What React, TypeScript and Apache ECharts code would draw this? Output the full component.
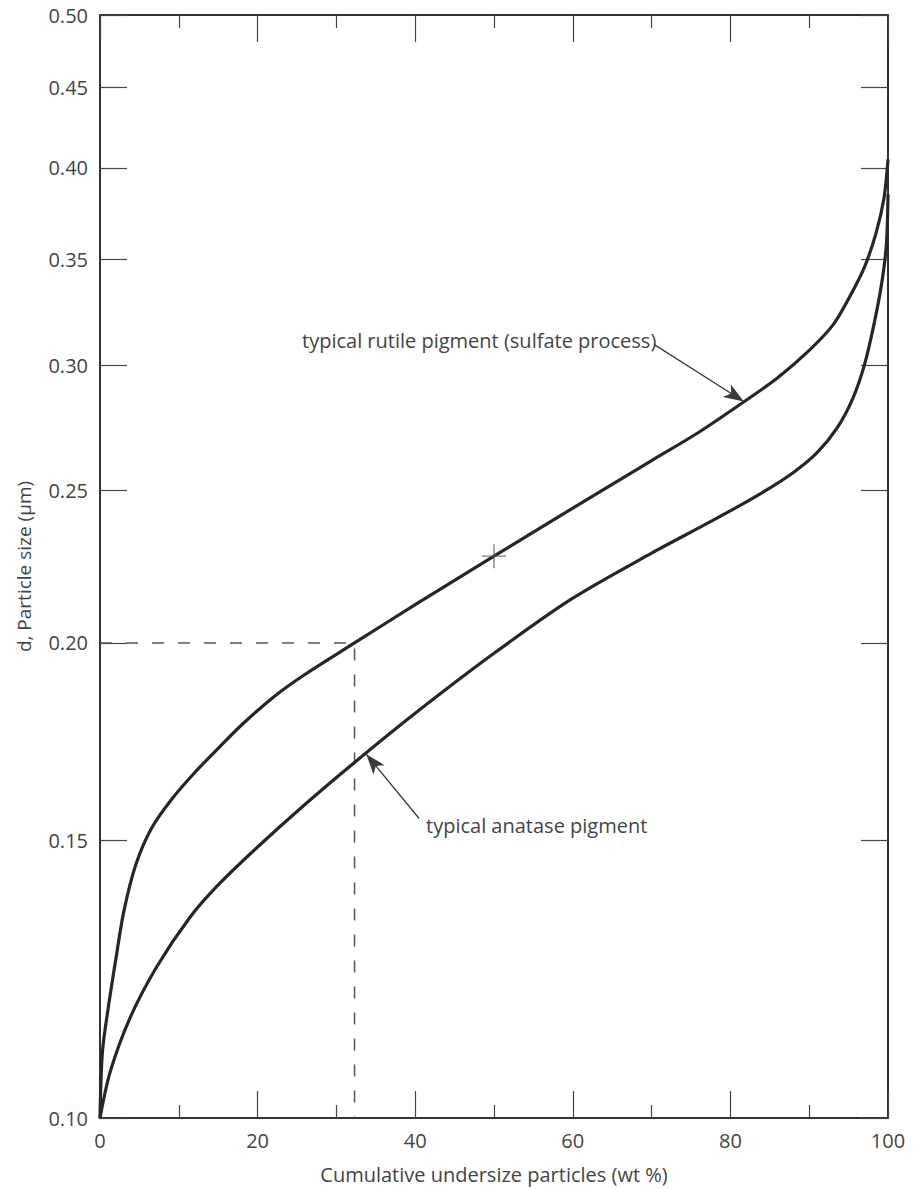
import React, { useEffect, useRef } from "react";
import * as echarts from "echarts";

// Cumulative particle-size distribution of TiO2 pigments (log particle-size axis).
const xTickValues = [0, 20, 40, 60, 80, 100];
const yTickValues = [0.1, 0.15, 0.2, 0.25, 0.3, 0.35, 0.4, 0.45, 0.5];

// typical rutile pigment (sulfate process)
const rutileX = [0, 0.3, 1, 2, 3, 4.5, 6.5, 9, 12, 15, 18, 22, 26, 32.3, 40, 50, 60, 70, 76, 82, 86, 90, 93, 95, 97, 98.5, 99.5, 100];
const rutileD = [0.1, 0.11, 0.117, 0.126, 0.135, 0.1445, 0.1525, 0.159, 0.1655, 0.1715, 0.1775, 0.1848, 0.191, 0.2, 0.2115, 0.227, 0.2435, 0.261, 0.272, 0.285, 0.2945, 0.3065, 0.318, 0.3305, 0.346, 0.364, 0.383, 0.405];

// typical anatase pigment
const anataseX = [0, 1.3, 3.8, 7.2, 11.4, 15, 20, 26, 32.3, 40, 50, 60, 70, 78, 84, 88, 91, 93.5, 95.5, 97, 98.2, 99.2, 99.8, 100];
const anataseD = [0.1, 0.107, 0.1157, 0.1247, 0.134, 0.1405, 0.1485, 0.158, 0.168, 0.1805, 0.197, 0.2135, 0.228, 0.2395, 0.249, 0.2565, 0.264, 0.2735, 0.2855, 0.3, 0.318, 0.338, 0.358, 0.385];

// 50 % point of the rutile curve
const medianPoint = [50, 0.227];

// reading guide: d = 0.20 µm on the rutile curve
const guideD = 0.2;
const guideX = 32.3;
const guideFloor = 0.1;

// annotation arrows [from, to] in (wt %, µm)
const rutileArrow = [[70.4, 0.309], [81.7, 0.2845]];
const anataseArrow = [[40.5, 0.1548], [33.8, 0.170]];

const FONT = "'Open Sans', sans-serif";
const lg = (v: number) => Math.log10(v);

export default function App() {
  const ref = useRef<HTMLDivElement>(null);

  useEffect(() => {
    if (!ref.current) return;
    const chart = echarts.init(ref.current, null, { renderer: "svg" });

    const yCustom = yTickValues.map(lg);
    const frameLine = { show: true, onZero: false, lineStyle: { color: "#333", width: 2 } };
    const tickStyle = { color: "#444", width: 1.2 };

    const xBase = {
      type: "value" as const,
      min: xTickValues[0],
      max: xTickValues[xTickValues.length - 1],
      interval: 20,
      axisLine: frameLine,
      axisTick: { show: true, inside: true, length: 27, lineStyle: tickStyle },
      minorTick: { show: true, splitNumber: 2, length: 13, lineStyle: tickStyle },
      splitLine: { show: false },
      minorSplitLine: { show: false },
    };

    const yBase = {
      type: "value" as const,
      min: lg(yTickValues[0]),
      max: lg(yTickValues[yTickValues.length - 1]),
      axisLine: frameLine,
      axisTick: { show: true, inside: true, length: 27, lineStyle: tickStyle, customValues: yCustom },
      splitLine: { show: false },
    };

    const toPts = (xs: number[], ds: number[]) => xs.map((x, i) => [x, lg(ds[i])]);

    const curveStyle = {
      type: "line" as const,
      showSymbol: false,
      smooth: 0.3,
      silent: true,
      z: 3,
      lineStyle: { color: "#262626", width: 3.2 },
    };

    chart.setOption({
      animation: false,
      backgroundColor: "#ffffff",
      grid: { left: 100, right: 31, top: 15, bottom: 70, containLabel: false },
      xAxis: [
        {
          ...xBase,
          position: "bottom",
          axisLabel: { show: true, fontSize: 20, color: "#444", fontFamily: FONT, margin: 12 },
          name: "Cumulative undersize particles (wt %)",
          nameLocation: "middle",
          nameGap: 46,
          nameTextStyle: { fontSize: 20, color: "#444", fontFamily: FONT },
        },
        {
          ...xBase,
          position: "top",
          axisLabel: { show: false },
        },
      ],
      yAxis: [
        {
          ...yBase,
          position: "left",
          axisLabel: {
            show: true,
            customValues: yCustom,
            formatter: (v: number) => Math.pow(10, v).toFixed(2),
            fontSize: 20,
            color: "#444",
            fontFamily: FONT,
            margin: 12,
          },
          name: "d, Particle size (\u00b5m)",
          nameLocation: "middle",
          nameGap: 67,
          nameTextStyle: { fontSize: 19, color: "#444", fontFamily: FONT },
        },
        {
          ...yBase,
          position: "right",
          axisLabel: { show: false },
        },
      ],
      series: [
        {
          name: "guide",
          type: "line",
          data: [
            [0, lg(guideD)],
            [guideX, lg(guideD)],
            [guideX, lg(guideFloor)],
          ],
          showSymbol: false,
          silent: true,
          z: 1,
          lineStyle: { color: "#555", width: 1.5, type: [12, 14] },
          markLine: {
            silent: true,
            symbol: ["none", "arrow"],
            symbolSize: [11, 20],
            label: { show: false },
            emphasis: { disabled: true },
            lineStyle: { color: "#3a3a3a", width: 1.3, type: "solid" },
            data: [rutileArrow, anataseArrow].map((a) => [
              { coord: [a[0][0], lg(a[0][1])] },
              { coord: [a[1][0], lg(a[1][1])] },
            ]),
          },
        },
        {
          ...curveStyle,
          name: "typical rutile pigment (sulfate process)",
          data: toPts(rutileX, rutileD),
        },
        {
          ...curveStyle,
          name: "typical anatase pigment",
          data: toPts(anataseX, anataseD),
        },
        {
          name: "median",
          type: "scatter",
          data: [[medianPoint[0], lg(medianPoint[1])]],
          symbol: "path://M12,0L12,24M0,12L24,12",
          symbolSize: 24,
          silent: true,
          z: 4,
          itemStyle: { color: "rgba(0,0,0,0)", borderColor: "#555", borderWidth: 1.3 },
        },
      ],
      graphic: [
        {
          type: "text",
          x: 302,
          y: 340,
          silent: true,
          style: {
            text: "typical rutile pigment (sulfate process)",
            fontSize: 20,
            fontFamily: FONT,
            fill: "#444",
            align: "left",
            verticalAlign: "middle",
          },
        },
        {
          type: "text",
          x: 426,
          y: 825,
          silent: true,
          style: {
            text: "typical anatase pigment",
            fontSize: 20,
            fontFamily: FONT,
            fill: "#444",
            align: "left",
            verticalAlign: "middle",
          },
        },
      ],
    });

    return () => chart.dispose();
  }, []);

  return (
    <div
      ref={ref}
      style={{ position: "absolute", left: 0, top: 0, width: 919, height: 1189, background: "#fff" }}
    />
  );
}
